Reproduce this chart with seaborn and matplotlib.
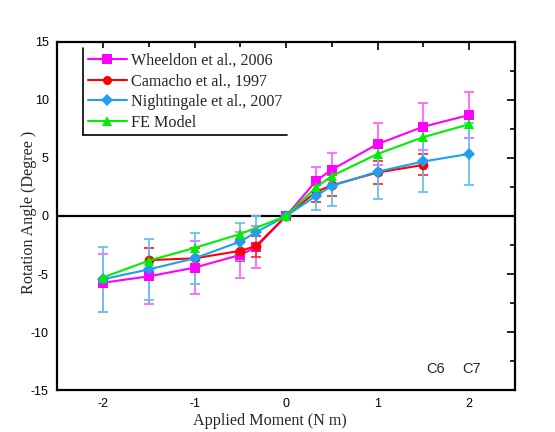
import numpy as np
import pandas as pd
import matplotlib
matplotlib.use("Agg")
import matplotlib.pyplot as plt
from matplotlib.lines import Line2D
from matplotlib.ticker import MultipleLocator
import seaborn as sns

# ---- data ----
x_wheeldon = [-2, -1.5, -1, -0.5, -0.33, 0, 0.33, 0.5, 1, 1.5, 2]
y_wheeldon = [-5.75, -5.2, -4.45, -3.35, -2.7, 0, 3.05, 4.0, 6.2, 7.7, 8.7]
e_wheeldon = [2.5, 2.4, 2.3, 2.0, 1.8, 0, 1.2, 1.4, 1.8, 2.0, 2.0]

x_camacho = [-1.5, -1, -0.5, -0.33, 0, 0.33, 0.5, 1, 1.5]
y_camacho = [-3.8, -3.65, -3.0, -2.6, 0, 2.1, 2.65, 3.75, 4.4]
e_camacho = [1.0, 0.9, 0.9, 0.9, 0, 0.9, 0.9, 0.95, 0.9]

x_night = [-2, -1.5, -1, -0.5, -0.33, 0, 0.33, 0.5, 1, 1.5, 2]
y_night = [-5.45, -4.6, -3.65, -2.2, -1.4, 0, 1.75, 2.6, 3.82, 4.7, 5.35]
e_night = [2.8, 2.6, 2.2, 1.6, 1.4, 0, 1.2, 1.7, 2.35, 2.6, 2.7]

x_fe = [-2, -1.5, -1, -0.5, 0, 0.33, 0.5, 1, 1.5, 2]
y_fe = [-5.3, -3.85, -2.75, -1.55, 0, 2.5, 3.45, 5.35, 6.8, 7.9]

labels = ["Wheeldon et al., 2006", "Camacho et al., 1997",
          "Nightingale et al., 2007", "FE Model"]
colors = ["#FF00FF", "#FF0000", "#1E9FF0", "#00EE00"]
err_colors = ["#FF66FF", "#FF3030", "#66C4F2", None]
markers = ["s", "o", "D", "^"]
msizes = [7, 7, 6.5, 7.5]

series = [
    (x_wheeldon, y_wheeldon, e_wheeldon),
    (x_camacho, y_camacho, e_camacho),
    (x_night, y_night, e_night),
    (x_fe, y_fe, None),
]

sns.set_theme(style="white")
plt.rcParams["font.family"] = ["Liberation Sans", "DejaVu Sans"]
plt.rcParams["axes.unicode_minus"] = False
serif = ["Liberation Serif", "DejaVu Serif"]

fig = plt.figure(figsize=(5.55, 4.32), dpi=100)
ax = fig.add_axes([0.103, 0.097, 0.825, 0.806])

# error bars first (behind lines)
for (xs, ys, es), ec in zip(series, err_colors):
    if es is None:
        continue
    ax.errorbar(xs, ys, yerr=es, fmt="none", ecolor=ec, elinewidth=1.3,
                capsize=3.5, capthick=1.3, zorder=2)

handles = []
for (xs, ys, es), lab, c, m, ms in zip(series, labels, colors, markers, msizes):
    df = pd.DataFrame({"x": xs, "y": ys})
    sns.lineplot(data=df, x="x", y="y", ax=ax, color=c, marker=m,
                 markersize=ms, markeredgewidth=0, linewidth=1.5,
                 sort=False, estimator=None, zorder=3)
    handles.append(Line2D([0], [0], color=c, marker=m, markersize=ms - 0.5,
                          markeredgewidth=0, linewidth=1.5))

ax.axhline(0, color="black", linewidth=1.6, zorder=1)

ax.set_xlim(-2.5, 2.5)
ax.set_ylim(-15, 15)
ax.xaxis.set_major_locator(MultipleLocator(1))
ax.xaxis.set_minor_locator(MultipleLocator(0.5))
ax.yaxis.set_major_locator(MultipleLocator(5))
ax.yaxis.set_minor_locator(MultipleLocator(2.5))
ax.tick_params(which="both", direction="in", top=True, right=True,
               labelsize=9, colors="black", width=1.2)
ax.tick_params(which="major", length=6, pad=6)
ax.tick_params(which="minor", length=3.5)
for sp in ax.spines.values():
    sp.set_linewidth(1.6)
    sp.set_color("black")

ax.set_xlabel("Applied Moment (N m)", fontsize=11.6, family=serif)
ax.set_ylabel("Rotation Angle (Degree )", fontsize=11.6, family=serif)
ax.xaxis.set_label_coords(0.465, -0.066)
ax.yaxis.set_label_coords(-0.045, 0.51)

ax.text(1.63, -13.2, "C6", fontsize=10.5, ha="center", va="center")
ax.text(2.02, -13.2, "C7", fontsize=10.5, ha="center", va="center")

leg = ax.legend(handles, labels, loc="upper left",
                bbox_to_anchor=(0.057, 0.982), frameon=True,
                prop={"family": serif, "size": 11.6},
                handlelength=2.4, handletextpad=0.25, labelspacing=0.28,
                borderpad=0.3, borderaxespad=0.0, fancybox=False)
leg.get_frame().set_edgecolor("none")
leg.get_frame().set_facecolor("white")
leg.get_frame().set_alpha(1)

fig.canvas.draw()
bb = leg.get_window_extent().transformed(fig.transFigure.inverted())
fig.add_artist(Line2D([bb.x0, bb.x0], [bb.y0, bb.y1], color="black",
                      linewidth=1.2, transform=fig.transFigure))
fig.add_artist(Line2D([bb.x0, bb.x1], [bb.y0, bb.y0], color="black",
                      linewidth=1.2, transform=fig.transFigure))

fig.savefig("out.png", dpi=100, facecolor="white")
